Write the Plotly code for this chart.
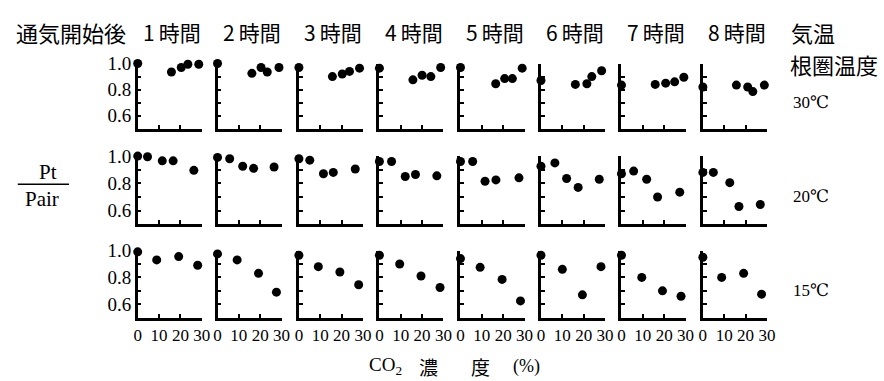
import plotly.graph_objects as go

# ---------------- data ----------------
hours = ["1時間", "2時間", "3時間", "4時間", "5時間", "6時間", "7時間", "8時間"]
temps = ["30℃", "20℃", "15℃"]

# root-zone temperature 30 ℃ : CO2 concentration (%) and Pt/Pair per hour panel
co2_30 = [
    [0, 15.8, 20.4, 23.5, 28.6],
    [0, 16.1, 20.4, 23.3, 28.8],
    [0, 15.7, 20.3, 23.7, 28.4],
    [0, 15.7, 20.0, 24.1, 28.7],
    [0, 16.5, 20.7, 24.3, 28.9],
    [0, 16.1, 21.5, 23.8, 28.4],
    [0, 15.8, 20.7, 24.9, 29.2],
    [0, 15.7, 21.0, 23.4, 28.8],
]
ratio_30 = [
    [1.00, 0.935, 0.97, 0.995, 0.995],
    [1.00, 0.925, 0.97, 0.935, 0.97],
    [0.97, 0.90, 0.92, 0.94, 0.965],
    [0.965, 0.875, 0.91, 0.90, 0.97],
    [0.97, 0.845, 0.885, 0.885, 0.965],
    [0.87, 0.84, 0.845, 0.90, 0.945],
    [0.835, 0.84, 0.85, 0.86, 0.895],
    [0.82, 0.835, 0.82, 0.785, 0.835],
]

# root-zone temperature 20 ℃
co2_20 = [
    [0, 4.6, 11.5, 16.6, 26.3],
    [0, 5.7, 11.8, 16.9, 26.5],
    [0, 5.1, 11.5, 16.1, 26.4],
    [0, 5.7, 12.1, 16.9, 26.9],
    [0, 5.7, 11.5, 16.6, 27.4],
    [0, 6.5, 12.0, 17.4, 27.3],
    [0, 5.7, 11.8, 16.9, 27.3],
    [0, 4.9, 12.6, 16.9, 26.9],
]
ratio_20 = [
    [1.00, 0.995, 0.965, 0.965, 0.895],
    [0.99, 0.98, 0.925, 0.91, 0.92],
    [0.98, 0.97, 0.87, 0.88, 0.905],
    [0.96, 0.96, 0.85, 0.865, 0.855],
    [0.96, 0.96, 0.815, 0.825, 0.84],
    [0.925, 0.95, 0.835, 0.77, 0.83],
    [0.87, 0.89, 0.83, 0.70, 0.735],
    [0.88, 0.88, 0.805, 0.63, 0.645],
]

# root-zone temperature 15 ℃
co2_15 = [
    [0, 8.9, 19.2, 28.1],
    [0, 9.2, 19.2, 27.6],
    [0, 9.1, 19.2, 28.0],
    [0, 9.5, 19.5, 28.4],
    [0, 9.2, 19.5, 28.1],
    [0, 10.0, 19.4, 28.1],
    [0, 9.5, 19.2, 27.9],
    [0, 8.8, 19.1, 27.5],
]
ratio_15 = [
    [0.99, 0.93, 0.955, 0.89],
    [0.975, 0.93, 0.83, 0.69],
    [0.965, 0.88, 0.84, 0.745],
    [0.965, 0.90, 0.81, 0.725],
    [0.94, 0.875, 0.785, 0.625],
    [0.965, 0.86, 0.67, 0.88],
    [0.965, 0.80, 0.70, 0.66],
    [0.95, 0.80, 0.83, 0.675],
]

x_ticks = [0, 10, 20, 30]
x_ticktext = ["0", "10", "20", "30"]
y_ticks = [0.6, 0.8, 1.0]
y_ticktext = ["0.6", "0.8", "1.0"]
y_minor_ticks = [0.7, 0.9]

# ---------------- layout geometry (pixels) ----------------
W, H = 884, 381
panel_left = [135.7, 216.7, 299.3, 381.0, 463.3, 545.0, 626.7, 709.3]
panel_w = 65
row_top = [55, 150, 247]
row_base = [122, 220, 316]

SERIF = "Liberation Serif, Times New Roman, DejaVu Serif, serif"
JP = "Noto Sans CJK JP"

rows_x = [co2_30, co2_20, co2_15]
rows_y = [ratio_30, ratio_20, ratio_15]

fig = go.Figure()
layout = dict(
    width=W, height=H, margin=dict(l=0, r=0, t=0, b=0),
    paper_bgcolor="white", plot_bgcolor="white", showlegend=False,
)

idx = 0
for r in range(3):
    for c in range(8):
        idx += 1
        xa = "x" if idx == 1 else f"x{idx}"
        ya = "y" if idx == 1 else f"y{idx}"
        xkey = "xaxis" if idx == 1 else f"xaxis{idx}"
        ykey = "yaxis" if idx == 1 else f"yaxis{idx}"
        fig.add_trace(go.Scatter(
            x=rows_x[r][c], y=rows_y[r][c], mode="markers",
            marker=dict(color="black", size=9),
            xaxis=xa, yaxis=ya, cliponaxis=False, hoverinfo="skip",
        ))
        x0 = panel_left[c] / W
        x1 = (panel_left[c] + panel_w) / W
        y0 = 1 - row_base[r] / H
        y1 = 1 - row_top[r] / H
        layout[xkey] = dict(
            domain=[x0, x1], anchor=ya, range=[0, 30],
            showline=True, linecolor="black", linewidth=2.5,
            showgrid=False, zeroline=False,
            ticks="inside", ticklen=4, tickwidth=2, tickcolor="black",
            tickvals=x_ticks, ticktext=x_ticktext,
            showticklabels=(r == 2),
            tickfont=dict(family=SERIF, size=17, color="black"),
        )
        layout[ykey] = dict(
            domain=[y0, y1], anchor=xa, range=[0.5, 1.0],
            showline=True, linecolor="black", linewidth=2.5,
            showgrid=False, zeroline=False,
            ticks="inside", ticklen=4, tickwidth=2, tickcolor="black",
            tickvals=y_ticks, ticktext=y_ticktext,
            minor=dict(tickvals=y_minor_ticks, ticks="inside", ticklen=4,
                       tickwidth=2, tickcolor="black", showgrid=False),
            showticklabels=(c == 0),
            tickfont=dict(family=SERIF, size=19, color="black"),
        )

ann = []
def add(text, x, y, size, family, xanchor="left", yanchor="middle"):
    ann.append(dict(text=text, x=x / W, y=1 - y / H, xref="paper", yref="paper",
                    showarrow=False, xanchor=xanchor, yanchor=yanchor,
                    font=dict(family=family, size=size, color="black")))

add("通気開始後", 10, 23, 22, JP)
for c, h in enumerate(hours):
    add(h[0] + "\u2009" + h[1:], panel_left[c] + 35, 23, 21, JP, xanchor="center")
add("気温", 797, 23, 22, JP)
add("根圏温度", 796, 55, 22, JP)
for r, t in enumerate(temps):
    add(t, 799, [95, 192, 288][r], 17, SERIF)
add("Pt", 45, 166, 21, SERIF, xanchor="center")
add("Pair", 39, 194, 21, SERIF, xanchor="center")
add("CO<sub>2</sub>", 368, 366, 19, SERIF)
add("濃", 431, 366, 19, JP, xanchor="center")
add("度", 484, 366, 19, JP, xanchor="center")
add("(%)", 530, 366, 18, SERIF, xanchor="center")
layout["annotations"] = ann
layout["shapes"] = [dict(type="line", xref="paper", yref="paper",
                         x0=14 / W, x1=66 / W, y0=1 - 179 / H, y1=1 - 179 / H,
                         line=dict(color="black", width=1.5))]

fig.update_layout(**layout)
fig.write_html("out.html")
